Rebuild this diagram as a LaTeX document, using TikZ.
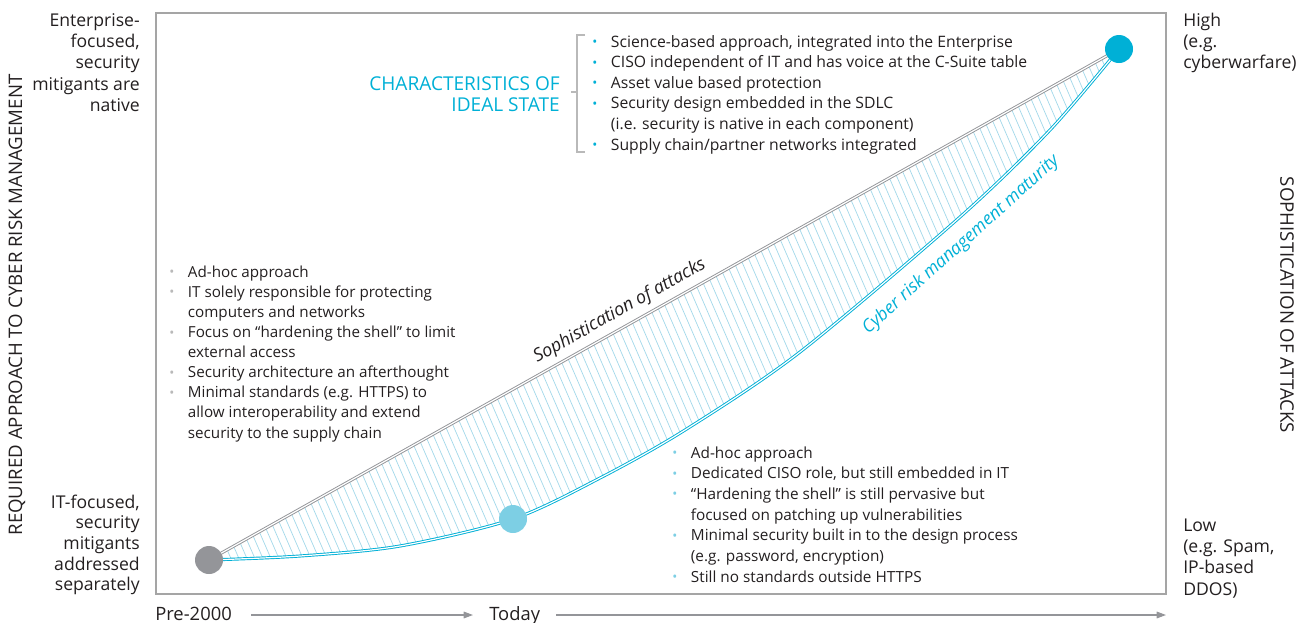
\documentclass[tikz,border=0pt]{standalone}
\usepackage{fontspec}
\setmainfont{Open Sans}
\usetikzlibrary{arrows.meta}
\definecolor{cyanA}{RGB}{0,176,214}
\definecolor{lblue}{RGB}{125,207,228}
\definecolor{hatchc}{RGB}{165,217,234}
\definecolor{dgray}{RGB}{148,149,153}
\definecolor{framegray}{RGB}{165,165,165}
\definecolor{brgray}{RGB}{185,185,185}
\definecolor{txt}{RGB}{35,31,32}
\newcommand\bul[1]{\makebox[14pt][l]{\textcolor{#1}{\fontsize{10}{10}\selectfont\raisebox{0.3pt}{•}}}}
\newcommand\bsp{\hspace*{14pt}}
\tikzset{
  lab/.style={inner sep=0pt, text=txt, font=\fontsize{13.2}{16}\selectfont},
  lst/.style={inner sep=0pt, text=txt, anchor=base west},
  dot/.style={circle, inner sep=0pt, minimum size=21pt},
  dbl/.style={line width=0.7pt, double=white, double distance=0.9pt},
  axarrow/.style={dgray, line width=0.8pt, -{Triangle[length=7pt,width=5pt]}}
}
\begin{document}
\begin{tikzpicture}[x=0.75pt,y=-0.75pt]
\useasboundingbox (0,0) rectangle (1306,622);
% frame
\draw[framegray, line width=1.1pt] (156,13) rectangle (1166,594);

\coordinate (p0) at (209,560);
\coordinate (pm) at (513,519);
\coordinate (p1) at (1119,49);

% hatching
\begin{scope}
\clip (p0) -- (p1) -- plot[smooth] coordinates {(1119,49) (1050,130) (960,217) (800,352) (685,430) (600,478) (513,519) (400,546) (300,556) (209,560)} -- cycle;
\foreach \x in {-300,-292,...,1160} \draw[hatchc, line width=0.55pt] (\x,0) -- ++(261,600);
\end{scope}

% curves
\draw[dbl, dgray] (p0) -- (p1);
\draw[dbl, cyanA] plot[smooth] coordinates {(p0) (300,556) (400,546) (pm) (600,478) (685,430) (800,352) (960,217) (1050,130) (p1)};

% dots
\node[dot, fill=dgray] (d0) at (p0) {};
\node[dot, fill=lblue] (dm) at (pm) {};
\node[dot, fill=cyanA] (d1) at (p1) {};

% curve labels
\path (p0) -- (p1) node[pos=0.46, sloped, anchor=south, inner sep=0pt, yshift=5pt, text=txt, font=\itshape\fontsize{13.5}{15}\selectfont] (lsoph) {Sophistication of attacks};
\node[rotate=42, inner sep=0pt, text=cyanA, font=\itshape\fontsize{13.3}{15}\selectfont] (lcyber) at (961,245) {Cyber risk management maturity};

% axis titles
\node[rotate=90, inner sep=0pt, text=txt, font=\fontsize{14}{16}\selectfont] (yl) at (17,305) {REQUIRED APPROACH TO CYBER RISK MANAGEMENT};
\node[rotate=-90, inner sep=0pt, text=txt, font=\fontsize{14}{16}\selectfont] (yr) at (1287,305) {SOPHISTICATION OF ATTACKS};

% corner labels
\node[lab, anchor=base east] (tl) at (140,26) {\begin{tabular}[t]{@{}r@{}}Enterprise-\\focused,\\security\\mitigants are\\native\end{tabular}};
\node[lab, anchor=base east, font=\fontsize{13.2}{15.5}\selectfont] (bl) at (140,508) {\begin{tabular}[t]{@{}r@{}}IT-focused,\\security\\mitigants\\addressed\\separately\end{tabular}};
\node[lab, anchor=base west] (tr) at (1183,26) {\begin{tabular}[t]{@{}l@{}}High\\(e.g.\\cyberwarfare)\end{tabular}};
\node[lab, anchor=base west] (br) at (1183,531) {\begin{tabular}[t]{@{}l@{}}Low\\(e.g. Spam,\\IP-based\\DDOS)\end{tabular}};

% time axis
\node[lab, anchor=base west, font=\fontsize{13.8}{16}\selectfont] (pre) at (155,620) {Pre-2000};
\node[lab, anchor=base west, font=\fontsize{13.8}{16}\selectfont] (today) at (489,620) {Today};
\coordinate (a1s) at (251,615);
\coordinate (a1e) at (473,615);
\coordinate (a2s) at (556,615);
\coordinate (a2e) at (1166,615);
\draw[axarrow] (a1s) -- (a1e);
\draw[axarrow] (a2s) -- (a2e);

% ideal state
\node[inner sep=0pt, anchor=base east, text=cyanA, font=\fontsize{14.3}{15.75}\selectfont] (ideal) at (560,90) {\begin{tabular}[t]{@{}r@{}}CHARACTERISTICS OF\\IDEAL STATE\end{tabular}};
\coordinate (bt) at (585,35);
\coordinate (bb) at (585,152);
\coordinate (bm) at (577,92);
\coordinate (bk) at (571,92);
\draw[brgray, line width=0.8pt] (bt) -- (577,35) -- (577,152) -- (bb);
\draw[brgray, line width=0.8pt] (bk) -- (bm);
\node[lst, font=\fontsize{11.8}{15.45}\selectfont] (ilist) at (592,47) {\begin{tabular}[t]{@{}l@{}}
\bul{cyanA}Science-based approach, integrated into the Enterprise\\
\bul{cyanA}CISO independent of IT and has voice at the C-Suite table\\
\bul{cyanA}Asset value based protection\\
\bul{cyanA}Security design embedded in the SDLC\\
\bsp(i.e. security is native in each component)\\
\bul{cyanA}Supply chain/partner networks integrated
\end{tabular}};

% pre-2000 list
\node[lst, font=\fontsize{11.4}{15.1}\selectfont] (llist) at (169,277) {\begin{tabular}[t]{@{}l@{}}
\bul{brgray}Ad-hoc approach\\
\bul{brgray}IT solely responsible for protecting\\
\bsp computers and networks\\
\bul{brgray}Focus on “hardening the shell” to limit\\
\bsp external access\\
\bul{brgray}Security architecture an afterthought\\
\bul{brgray}Minimal standards (e.g. HTTPS) to\\
\bsp allow interoperability and extend\\
\bsp security to the supply chain
\end{tabular}};

% today list
\node[lst, font=\fontsize{11.5}{15.5}\selectfont] (tlist) at (672,458) {\begin{tabular}[t]{@{}l@{}}
\bul{lblue}Ad-hoc approach\\
\bul{lblue}Dedicated CISO role, but still embedded in IT\\
\bul{lblue}“Hardening the shell” is still pervasive but\\
\bsp focused on patching up vulnerabilities\\
\bul{lblue}Minimal security built in to the design process\\
\bsp(e.g. password, encryption)\\
\bul{lblue}Still no standards outside HTTPS
\end{tabular}};
\end{tikzpicture}
\end{document}
